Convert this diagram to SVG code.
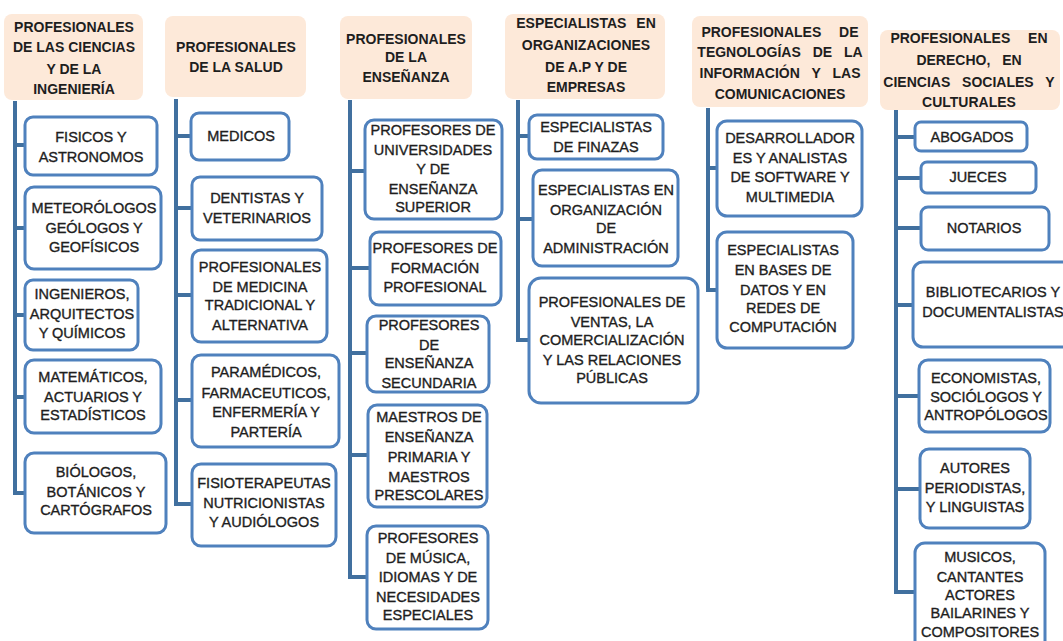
<svg xmlns="http://www.w3.org/2000/svg" width="1063" height="641" viewBox="0 0 1063 641">
<style>
.hdr rect{fill:#FDE9D9;stroke:none}
.hdr text{font-family:"Liberation Sans",Arial,sans-serif;font-weight:bold;font-size:14px;fill:#1e1e1e;text-anchor:middle}
.box rect{fill:#ffffff;stroke:#4F81BD;stroke-width:3}
.box text{font-family:"Liberation Sans",Arial,sans-serif;font-size:14.5px;fill:#1e1e1e;stroke:#1e1e1e;stroke-width:0.35;text-anchor:middle}
#connectors path{fill:none;stroke:#41709F;stroke-width:4}
</style>
<rect width="1063" height="641" fill="#ffffff"/>
<g id="connectors">
<path d="M15 101V493H25M15 145H25M15 228H25M15 315H25M15 397H25"/>
<path d="M176 99V504H192M176 136H191M176 208H192M176 295H192M176 400H192"/>
<path d="M350 100V577H367M350 171H365M350 268H370M350 353H367M350 455H368"/>
<path d="M518 100V340H529M518 136H529M518 219H533"/>
<path d="M708 108V290H717M708 168H717"/>
<path d="M896 110V592H915M896 137H915M896 178H921M896 228H921M896 305H913M896 396H919M896 489H920"/>
</g>

<g id="h1" class="hdr"><rect x="4" y="14" width="139" height="86" rx="8"/>
<text><tspan x="74" y="32">PROFESIONALES</tspan><tspan x="74" y="52">DE LAS CIENCIAS</tspan><tspan x="74" y="74">Y DE LA</tspan><tspan x="74" y="94">INGENIERÍA</tspan></text></g>
<g id="h2" class="hdr"><rect x="165" y="16" width="141" height="81" rx="8"/>
<text><tspan x="236" y="52">PROFESIONALES</tspan><tspan x="236" y="72">DE LA SALUD</tspan></text></g>
<g id="h3" class="hdr"><rect x="340" y="16" width="132" height="83" rx="8"/>
<text><tspan x="406" y="44">PROFESIONALES</tspan><tspan x="406" y="62">DE LA</tspan><tspan x="406" y="82">ENSEÑANZA</tspan></text></g>
<g id="h4" class="hdr"><rect x="505" y="14" width="160" height="85" rx="8"/>
<text><tspan x="586" y="28" word-spacing="6">ESPECIALISTAS EN</tspan><tspan x="586" y="50">ORGANIZACIONES</tspan><tspan x="586" y="72">DE A.P Y DE</tspan><tspan x="586" y="92">EMPRESAS</tspan></text></g>
<g id="h5" class="hdr"><rect x="692" y="16" width="176" height="91" rx="8"/>
<text><tspan x="780" y="37" word-spacing="14">PROFESIONALES DE</tspan><tspan x="780" y="57" word-spacing="8">TEGNOLOGÍAS DE LA</tspan><tspan x="780" y="78" word-spacing="8">INFORMACIÓN Y LAS</tspan><tspan x="780" y="99">COMUNICACIONES</tspan></text></g>
<g id="h6" class="hdr"><rect x="880" y="30" width="180" height="80" rx="8"/>
<text><tspan x="969" y="43" word-spacing="14">PROFESIONALES EN</tspan><tspan x="969" y="65" word-spacing="8">DERECHO, EN</tspan><tspan x="969" y="87" word-spacing="8">CIENCIAS SOCIALES Y</tspan><tspan x="969" y="107">CULTURALES</tspan></text></g>

<g id="c1a" class="box"><rect x="25" y="117" width="132" height="58" rx="8"/>
<text><tspan x="91" y="142">FISICOS Y</tspan><tspan x="91" y="162">ASTRONOMOS</tspan></text></g>
<g id="c1b" class="box"><rect x="25" y="187" width="136" height="82" rx="9"/>
<text><tspan x="94" y="213">METEORÓLOGOS</tspan><tspan x="94" y="233">GEÓLOGOS Y</tspan><tspan x="94" y="252">GEOFÍSICOS</tspan></text></g>
<g id="c1c" class="box"><rect x="25" y="280" width="113" height="70" rx="8"/>
<text><tspan x="82" y="299">INGENIEROS,</tspan><tspan x="82" y="319">ARQUITECTOS</tspan><tspan x="82" y="338">Y QUÍMICOS</tspan></text></g>
<g id="c1d" class="box"><rect x="25" y="360" width="136" height="73" rx="9"/>
<text><tspan x="93" y="382">MATEMÁTICOS,</tspan><tspan x="93" y="402">ACTUARIOS Y</tspan><tspan x="93" y="420">ESTADÍSTICOS</tspan></text></g>
<g id="c1e" class="box"><rect x="25" y="453" width="141" height="80" rx="9"/>
<text><tspan x="96" y="477">BIÓLOGOS,</tspan><tspan x="96" y="497">BOTÁNICOS Y</tspan><tspan x="96" y="515">CARTÓGRAFOS</tspan></text></g>

<g id="c2a" class="box"><rect x="191" y="113" width="98" height="47" rx="8"/>
<text><tspan x="241" y="141">MEDICOS</tspan></text></g>
<g id="c2b" class="box"><rect x="192" y="177" width="130" height="63" rx="8"/>
<text><tspan x="257" y="203">DENTISTAS Y</tspan><tspan x="257" y="223">VETERINARIOS</tspan></text></g>
<g id="c2c" class="box"><rect x="192" y="250" width="135" height="92" rx="9"/>
<text><tspan x="260" y="272">PROFESIONALES</tspan><tspan x="260" y="292">DE MEDICINA</tspan><tspan x="260" y="310">TRADICIONAL Y</tspan><tspan x="260" y="330">ALTERNATIVA</tspan></text></g>
<g id="c2d" class="box"><rect x="192" y="355" width="147" height="92" rx="9"/>
<text><tspan x="266" y="377">PARAMÉDICOS,</tspan><tspan x="266" y="398">FARMACEUTICOS,</tspan><tspan x="266" y="417">ENFERMERÍA Y</tspan><tspan x="266" y="437">PARTERÍA</tspan></text></g>
<g id="c2e" class="box"><rect x="192" y="464" width="144" height="82" rx="9"/>
<text><tspan x="264" y="488">FISIOTERAPEUTAS</tspan><tspan x="264" y="508">NUTRICIONISTAS</tspan><tspan x="264" y="527">Y AUDIÓLOGOS</tspan></text></g>

<g id="c3a" class="box"><rect x="365" y="120" width="137" height="99" rx="9"/>
<text><tspan x="433" y="135">PROFESORES DE</tspan><tspan x="433" y="155">UNIVERSIDADES</tspan><tspan x="433" y="174">Y DE</tspan><tspan x="433" y="194">ENSEÑANZA</tspan><tspan x="433" y="212">SUPERIOR</tspan></text></g>
<g id="c3b" class="box"><rect x="370" y="232" width="131" height="73" rx="9"/>
<text><tspan x="435" y="253">PROFESORES DE</tspan><tspan x="435" y="273">FORMACIÓN</tspan><tspan x="435" y="292">PROFESIONAL</tspan></text></g>
<g id="c3c" class="box"><rect x="367" y="316" width="122" height="76" rx="9"/>
<text><tspan x="429" y="330">PROFESORES</tspan><tspan x="429" y="350">DE</tspan><tspan x="429" y="368">ENSEÑANZA</tspan><tspan x="429" y="388">SECUNDARIA</tspan></text></g>
<g id="c3d" class="box"><rect x="368" y="405" width="119" height="102" rx="9"/>
<text><tspan x="429" y="422">MAESTROS DE</tspan><tspan x="429" y="442">ENSEÑANZA</tspan><tspan x="429" y="462">PRIMARIA Y</tspan><tspan x="429" y="482">MAESTROS</tspan><tspan x="429" y="500">PRESCOLARES</tspan></text></g>
<g id="c3e" class="box"><rect x="367" y="526" width="121" height="103" rx="9"/>
<text><tspan x="428" y="543">PROFESORES</tspan><tspan x="428" y="563">DE MÚSICA,</tspan><tspan x="428" y="582">IDIOMAS Y DE</tspan><tspan x="428" y="602">NECESIDADES</tspan><tspan x="428" y="620">ESPECIALES</tspan></text></g>

<g id="c4a" class="box"><rect x="529" y="115" width="134" height="44" rx="8"/>
<text><tspan x="596" y="132">ESPECIALISTAS</tspan><tspan x="596" y="152">DE FINAZAS</tspan></text></g>
<g id="c4b" class="box"><rect x="533" y="170" width="145" height="96" rx="9"/>
<text><tspan x="606" y="195">ESPECIALISTAS EN</tspan><tspan x="606" y="215">ORGANIZACIÓN</tspan><tspan x="606" y="233">DE</tspan><tspan x="606" y="253">ADMINISTRACIÓN</tspan></text></g>
<g id="c4c" class="box"><rect x="529" y="278" width="169" height="125" rx="12"/>
<text><tspan x="612" y="307">PROFESIONALES DE</tspan><tspan x="612" y="327">VENTAS, LA</tspan><tspan x="612" y="345">COMERCIALIZACIÓN</tspan><tspan x="612" y="365">Y LAS RELACIONES</tspan><tspan x="612" y="383">PÚBLICAS</tspan></text></g>

<g id="c5a" class="box"><rect x="717" y="121" width="145" height="95" rx="10"/>
<text><tspan x="790" y="143">DESARROLLADOR</tspan><tspan x="790" y="163">ES Y ANALISTAS</tspan><tspan x="790" y="182">DE SOFTWARE Y</tspan><tspan x="790" y="202">MULTIMEDIA</tspan></text></g>
<g id="c5b" class="box"><rect x="717" y="232" width="136" height="116" rx="10"/>
<text><tspan x="783" y="255">ESPECIALISTAS</tspan><tspan x="783" y="275">EN BASES DE</tspan><tspan x="783" y="295">DATOS Y EN</tspan><tspan x="783" y="313">REDES DE</tspan><tspan x="783" y="332">COMPUTACIÓN</tspan></text></g>

<g id="c6a" class="box"><rect x="915" y="122" width="112" height="29" rx="6"/>
<text><tspan x="972" y="142">ABOGADOS</tspan></text></g>
<g id="c6b" class="box"><rect x="921" y="162" width="115" height="31" rx="6"/>
<text><tspan x="978" y="182">JUECES</tspan></text></g>
<g id="c6c" class="box"><rect x="921" y="207" width="128" height="43" rx="7"/>
<text><tspan x="984" y="233">NOTARIOS</tspan></text></g>
<g id="c6d" class="box"><rect x="913" y="262" width="165" height="85" rx="10"/>
<text><tspan x="993" y="297">BIBLIOTECARIOS Y</tspan><tspan x="993" y="317">DOCUMENTALISTAS</tspan></text></g>
<g id="c6e" class="box"><rect x="919" y="360" width="131" height="72" rx="9"/>
<text><tspan x="986" y="383">ECONOMISTAS,</tspan><tspan x="986" y="402">SOCIÓLOGOS Y</tspan><tspan x="986" y="420">ANTROPÓLOGOS</tspan></text></g>
<g id="c6f" class="box"><rect x="920" y="449" width="110" height="79" rx="9"/>
<text><tspan x="975" y="473">AUTORES</tspan><tspan x="975" y="493">PERIODISTAS,</tspan><tspan x="975" y="512">Y LINGUISTAS</tspan></text></g>
<g id="c6g" class="box"><rect x="915" y="543" width="130" height="110" rx="10"/>
<text><tspan x="980" y="562">MUSICOS,</tspan><tspan x="980" y="582">CANTANTES</tspan><tspan x="980" y="600">ACTORES</tspan><tspan x="980" y="618">BAILARINES Y</tspan><tspan x="980" y="637">COMPOSITORES</tspan></text></g>
</svg>
